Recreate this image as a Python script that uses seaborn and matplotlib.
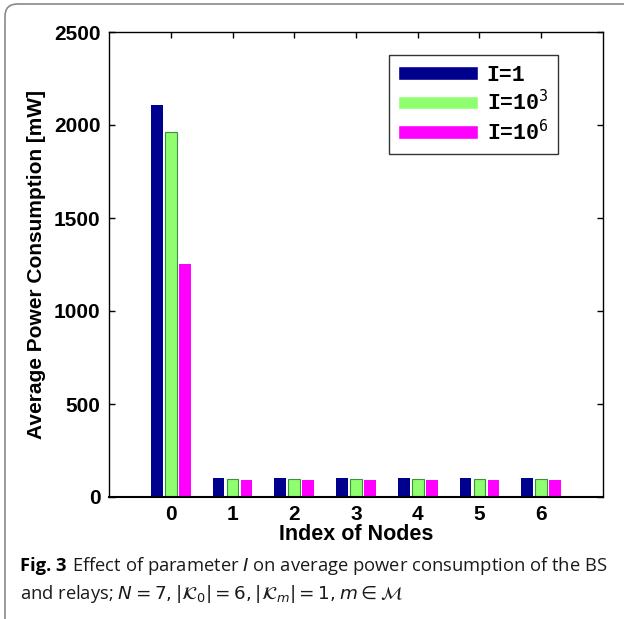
import pandas as pd
import matplotlib
matplotlib.use('Agg')
import matplotlib.pyplot as plt
import seaborn as sns
from matplotlib.patches import FancyBboxPatch

# Dados
nodes = ['0', '1', '2', '3', '4', '5', '6']
series = ['I=1', 'I=10$^{\\mathtt{3}}$', 'I=10$^{\\mathtt{6}}$']
power_I1 = [2110, 100, 100, 100, 100, 100, 100]
power_I1e3 = [1960, 97, 95, 97, 97, 95, 95]
power_I1e6 = [1255, 90, 90, 90, 90, 90, 90]
cores = ['#00008f', '#8fff6f', '#ff00ff']

df = pd.DataFrame({
    'node': nodes * 3,
    'serie': [series[0]] * 7 + [series[1]] * 7 + [series[2]] * 7,
    'power': power_I1 + power_I1e3 + power_I1e6,
})

sns.set_style('white')
plt.rcParams['font.family'] = ['Liberation Sans', 'DejaVu Sans']
plt.rcParams['text.color'] = 'black'
plt.rcParams['axes.labelcolor'] = 'black'
plt.rcParams['xtick.color'] = 'black'
plt.rcParams['ytick.color'] = 'black'

fig = plt.figure(figsize=(6.24, 6.19), dpi=100)
ax = fig.add_axes([109 / 624, 1 - 497 / 619, 494 / 624, 465 / 619])

sns.barplot(data=df, x='node', y='power', hue='serie', palette=cores,
            width=0.68, gap=0.15, ax=ax, saturation=1)
# bordas das barras
for i, cont in enumerate(ax.containers):
    for b in cont:
        if i == 1:
            b.set_edgecolor('#3f8f3f')
            b.set_linewidth(0.8)
        else:
            b.set_edgecolor('none')

ax.set_xlim(-1, 7)
ax.set_ylim(0, 2500)
ax.set_yticks([0, 500, 1000, 1500, 2000, 2500])
for sp in ax.spines.values():
    sp.set_color('black')
    sp.set_linewidth(1.0)
ax.spines['bottom'].set_linewidth(1.5)
ax.tick_params(axis='both', which='both', direction='in', length=4, width=1,
               top=True, right=True, bottom=True, left=True,
               labelsize=15, pad=6, colors='black')
for lab in ax.get_xticklabels() + ax.get_yticklabels():
    lab.set_fontweight('bold')
ax.set_xlabel('Index of Nodes', fontsize=15.5, fontweight='bold', labelpad=0)
ax.set_ylabel('Average Power Consumption [mW]', fontsize=15, fontweight='bold', labelpad=6)

leg = ax.legend(loc='upper right', bbox_to_anchor=(0.9095, 0.9505),
                prop={'family': 'Liberation Mono', 'size': 15.5, 'weight': 'bold'},
                frameon=True, fancybox=False, handlelength=3.7, handleheight=0.6,
                labelspacing=0.2, borderpad=0.45, handletextpad=0.4, borderaxespad=0)
leg.get_frame().set_edgecolor('black')
leg.get_frame().set_linewidth(1.0)

# moldura (so topo e lado esquerdo aparecem)
moldura = FancyBboxPatch((5 / 624, -0.1), 1.2, 1.1 - 4 / 619,
                         boxstyle='round,pad=0,rounding_size=0.02',
                         transform=fig.transFigure, fill=False,
                         edgecolor='#8a8a8a', linewidth=1.2, clip_on=False)
fig.patches.append(moldura)

# legenda da figura
fs = 13.2
x0 = 20 / 624
y1 = 1 - 571 / 619
y2 = 1 - 599 / 619
t1 = fig.text(x0, y1, 'Fig. 3', fontsize=fs, family='Open Sans', fontweight='bold', va='baseline')
fig.canvas.draw()
r = fig.canvas.get_renderer()
bb = t1.get_window_extent(r)
x1 = (bb.x1 + 5) / fig.bbox.width
fig.text(x1, y1, r'Effect of parameter $I$ on average power consumption of the BS',
         fontsize=fs, family='Open Sans', va='baseline', color='#1a1a1a')
fig.text(x0, y2,
         r'and relays; $N = 7, |\mathcal{K}_0| = 6, |\mathcal{K}_m| = 1, m \in \mathcal{M}$',
         fontsize=fs, family='Open Sans', va='baseline', color='#1a1a1a')

plt.savefig('out.png', dpi=100)
